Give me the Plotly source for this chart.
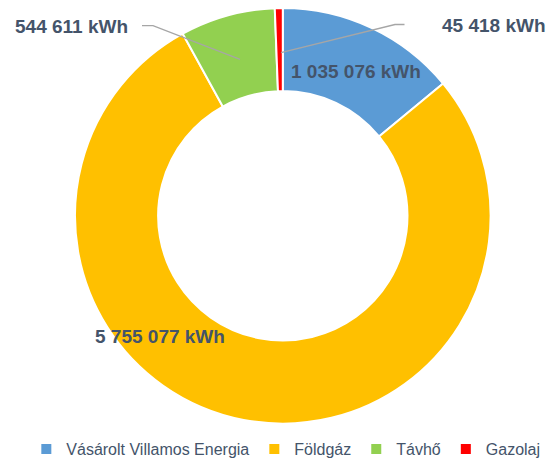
import plotly.graph_objects as go

categories = ["Vásárolt Villamos Energia", "Földgáz", "Távhő", "Gazolaj"]
values_kwh = [1035076, 5755077, 544611, 45418]
colors = ["#5B9BD5", "#FFC000", "#92D050", "#FF0000"]

W, H = 555, 460
TEXT = "#44546A"


def px(x):
    return x / W


def py(y):
    return 1 - y / H


def fmt(v):
    return f"{v:,}".replace(",", " ") + " kWh"


fig = go.Figure(
    go.Pie(
        labels=categories,
        values=values_kwh,
        sort=False,
        direction="clockwise",
        rotation=0,
        hole=0.6,
        marker=dict(colors=colors, line=dict(color="white", width=2)),
        textinfo="none",
        hoverinfo="label+value",
        domain=dict(x=[px(75), px(490.6)], y=[py(423.6), py(8)]),
    )
)

# label placement (pixel centres) for each category
label_pos = [(355.8, 71), (160, 336), (71, 26), (494, 25)]
for v, (lx, ly) in zip(values_kwh, label_pos):
    fig.add_annotation(
        x=px(lx), y=py(ly), xref="paper", yref="paper",
        text=f"<b>{fmt(v)}</b>", showarrow=False,
        xanchor="center", yanchor="middle",
        font=dict(family="Liberation Sans, Arial", size=19, color=TEXT),
    )

# leader lines
leaders = [
    [(142, 25.6), (153, 25.6), (240, 59.4)],
    [(404.5, 24.5), (395, 24.5), (281, 52.7)],
]
for pts in leaders:
    path = "M " + " L ".join(f"{px(x):.5f},{py(y):.5f}" for x, y in pts)
    fig.add_shape(type="path", path=path, xref="paper", yref="paper",
                  line=dict(color="#A6A6A6", width=1.3))

fig.update_layout(
    width=W, height=H,
    margin=dict(l=0, r=0, t=0, b=0, autoexpand=False),
    paper_bgcolor="white",
    plot_bgcolor="white",
    showlegend=True,
    legend=dict(
        orientation="h", xref="container", yref="container",
        x=0.515, xanchor="center", y=py(449), yanchor="middle",
        font=dict(family="Liberation Sans, Arial", size=16, color=TEXT),
        itemwidth=30, tracegroupgap=0, bgcolor="rgba(0,0,0,0)",
    ),
)

fig.write_html(
    "out.html",
    config={"displayModeBar": False},
    post_script="document.body.style.margin='0';document.documentElement.style.overflow='hidden';",
)
